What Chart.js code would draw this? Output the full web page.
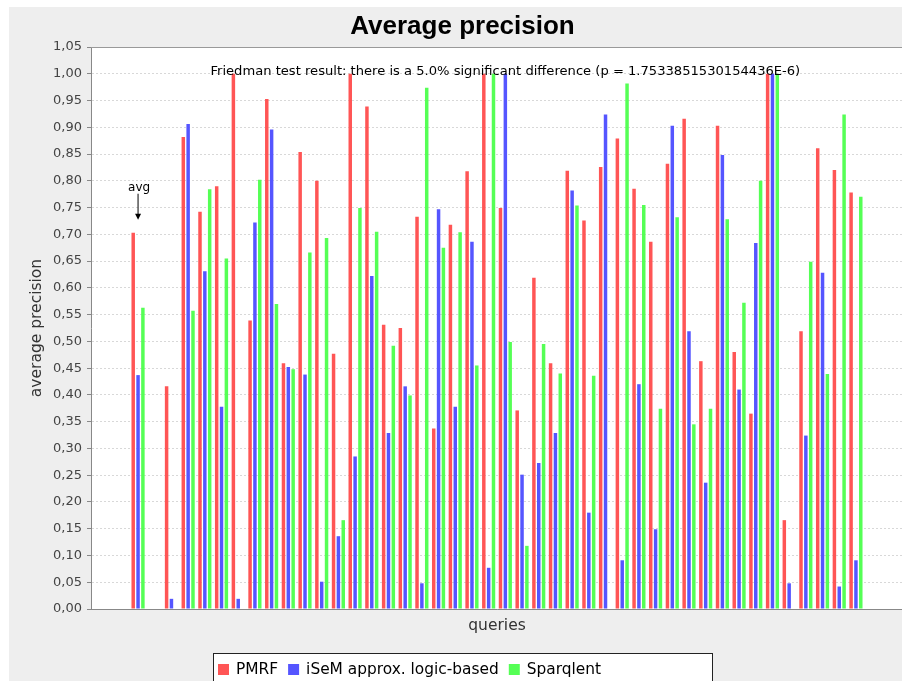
<!DOCTYPE html>
<html>
<head>
<meta charset="utf-8">
<title>Average precision</title>
<script src="https://cdn.jsdelivr.net/npm/chart.js@4.4.0/dist/chart.umd.min.js"></script>
<style>
    html, body { margin: 0; padding: 0; background: #ffffff; overflow: hidden; }
    #panel { position: absolute; left: 9px; top: 7px; width: 907px; height: 690px; background: #eeeeee; }
</style>
</head>
<body>
<div id="panel"><canvas id="chart" width="907" height="690"></canvas></div>
<script>
// categories: the average, an empty separator, then the queries
var categories = ['avg', '', 'q1', 'q2', 'q3', 'q4', 'q5', 'q6', 'q7', 'q8', 'q9', 'q10',
    'q11', 'q12', 'q13', 'q14', 'q15', 'q16', 'q17', 'q18', 'q19', 'q20', 'q21', 'q22',
    'q23', 'q24', 'q25', 'q26', 'q27', 'q28', 'q29', 'q30', 'q31', 'q32', 'q33', 'q34',
    'q35', 'q36', 'q37', 'q38', 'q39', 'q40', 'q41', 'q42'];

var pmrf = [0.703, 0, 0.416, 0.882, 0.742, 0.790, 1.0, 0.539, 0.953, 0.459, 0.854,
    0.800, 0.477, 1.0, 0.939, 0.531, 0.525, 0.733, 0.337, 0.718, 0.818, 1.0, 0.749,
    0.371, 0.619, 0.459, 0.819, 0.726, 0.826, 0.879, 0.785, 0.686, 0.832, 0.916, 0.463,
    0.903, 0.480, 0.365, 1.0, 0.166, 0.519, 0.861, 0.820, 0.778];

var isem = [0.437, 0, 0.019, 0.906, 0.631, 0.378, 0.019, 0.722, 0.896, 0.452, 0.438,
    0.051, 0.136, 0.285, 0.622, 0.329, 0.416, 0.048, 0.747, 0.378, 0.686, 0.077, 1.0,
    0.251, 0.273, 0.329, 0.782, 0.180, 0.924, 0.091, 0.420, 0.149, 0.903, 0.519, 0.236,
    0.848, 0.410, 0.684, 1.0, 0.048, 0.324, 0.628, 0.042, 0.091];

var sparqlent = [0.563, 0, 0, 0.557, 0.784, 0.655, 0, 0.802, 0.570, 0.448, 0.666,
    0.693, 0.166, 0.749, 0.705, 0.492, 0.399, 0.974, 0.675, 0.704, 0.455, 1.0, 0.499,
    0.118, 0.495, 0.440, 0.754, 0.436, 0, 0.982, 0.755, 0.374, 0.732, 0.345, 0.374,
    0.728, 0.572, 0.800, 1.0, 0, 0.649, 0.439, 0.924, 0.770];

var seriesNames = ['PMRF', 'iSeM approx. logic-based', 'Sparqlent'];
var seriesColors = ['#ff5555', '#5555ff', '#55ff55'];

var yMin = 0, yMax = 1.05, yStep = 0.05;
var chartTitle = 'Average precision';
var friedmanText = 'Friedman test result: there is a 5.0% significant difference (p = 1.7533851530154436E-6)';

// category axis margins, like the original renderer
var lowerMargin = 0.05, upperMargin = 0.05, categoryMargin = 0.2;
var n = categories.length;
var unit = (1 - lowerMargin - upperMargin - categoryMargin) / n + categoryMargin / (n - 1);
var xMin = -(lowerMargin + (1 - lowerMargin - upperMargin - categoryMargin) / n / 2) / unit;
var xMax = (n - 1) - xMin;

function toPoints(values) {
    return values.map(function (v, i) { return { x: i, y: v }; });
}

var tickFont = { family: 'DejaVu Sans', size: 13 };
var labelFont = { family: 'DejaVu Sans', size: 15.5 };

var extras = {
    id: 'extras',
    beforeDraw: function (chart) {
        var a = chart.chartArea, ctx = chart.ctx;
        ctx.save();
        ctx.fillStyle = '#ffffff';
        ctx.fillRect(a.left, a.top, a.right - a.left, a.bottom - a.top);
        // title, centred on the whole panel
        ctx.fillStyle = '#000000';
        ctx.font = 'bold 26px "Liberation Sans"';
        ctx.textAlign = 'center';
        ctx.textBaseline = 'alphabetic';
        ctx.fillText(chartTitle, chart.width / 2, 27);
        ctx.restore();
    },
    afterDatasetsDraw: function (chart) {
        var ctx = chart.ctx, xs = chart.scales.x, ys = chart.scales.y, a = chart.chartArea;
        ctx.save();
        // plot outline on top
        ctx.strokeStyle = '#999999';
        ctx.lineWidth = 1;
        ctx.beginPath();
        ctx.moveTo(a.left, a.top + 0.5);
        ctx.lineTo(a.right, a.top + 0.5);
        ctx.stroke();

        // avg pointer
        var px = xs.getPixelForValue(0);
        var py = ys.getPixelForValue(Math.max(pmrf[0], isem[0], sparqlent[0]));
        var tip = py - 13, base = py - 39;
        ctx.strokeStyle = '#000000';
        ctx.fillStyle = '#000000';
        ctx.beginPath();
        ctx.moveTo(px, base);
        ctx.lineTo(px, tip - 4);
        ctx.stroke();
        ctx.beginPath();
        ctx.moveTo(px - 3, tip - 6);
        ctx.lineTo(px + 3, tip - 6);
        ctx.lineTo(px, tip);
        ctx.closePath();
        ctx.fill();
        ctx.font = '12px "DejaVu Sans"';
        ctx.textAlign = 'center';
        ctx.textBaseline = 'alphabetic';
        ctx.fillText('avg', px + 1, base - 3);

        // test result
        ctx.font = '13.1px "DejaVu Sans"';
        ctx.fillText(friedmanText, xs.getPixelForValue(Math.floor(n / 2)), ys.getPixelForValue(1.0) + 1);
        ctx.restore();
    },
    afterDraw: function (chart) {
        var ctx = chart.ctx;
        var box = { left: 204, top: 646, width: 499, height: 60 };
        ctx.save();
        ctx.fillStyle = '#ffffff';
        ctx.fillRect(box.left, box.top, box.width, box.height);
        ctx.strokeStyle = '#222222';
        ctx.lineWidth = 1;
        ctx.strokeRect(box.left + 0.5, box.top + 0.5, box.width, box.height);
        ctx.font = '15.4px "DejaVu Sans"';
        ctx.textAlign = 'left';
        ctx.textBaseline = 'middle';
        var x = box.left + 5, cy = box.top + 17;
        chart.data.datasets.forEach(function (ds) {
            ctx.fillStyle = ds.backgroundColor;
            ctx.fillRect(x, cy - 6, 11, 11);
            ctx.fillStyle = '#000000';
            ctx.fillText(ds.label, x + 18, cy);
            x += 18 + ctx.measureText(ds.label).width + 10;
        });
        ctx.restore();
    }
};

new Chart(document.getElementById('chart'), {
    type: 'bar',
    data: {
        datasets: [0, 1, 2].map(function (k) {
            return {
                label: seriesNames[k],
                data: toPoints([pmrf, isem, sparqlent][k]),
                backgroundColor: seriesColors[k],
                borderWidth: 0,
                categoryPercentage: 0.87,
                barPercentage: 0.72
            };
        })
    },
    options: {
        responsive: false,
        animation: false,
        layout: { padding: { left: 0, right: 13, top: 40, bottom: 58 } },
        plugins: {
            legend: { display: false },
            tooltip: { enabled: false },
            title: { display: false }
        },
        scales: {
            x: {
                type: 'linear',
                min: xMin,
                max: xMax,
                offset: false,
                ticks: { display: false },
                grid: { display: false, drawTicks: false },
                border: { color: '#888888', width: 1 },
                title: {
                    display: true,
                    text: 'queries',
                    color: '#333333',
                    font: labelFont,
                    padding: { top: 0, bottom: 3.7 }
                },
                afterFit: function (scale) { scale.height = 30; }
            },
            y: {
                min: yMin,
                max: yMax,
                ticks: {
                    stepSize: yStep,
                    maxTicksLimit: 40,
                    padding: 5,
                    color: '#444444',
                    font: tickFont,
                    callback: function (v) { return v.toFixed(2).replace('.', ','); }
                },
                grid: {
                    color: '#d8d8d8',
                    lineWidth: 1,
                    tickLength: 4,
                    tickColor: '#888888',
                    tickBorderDash: []
                },
                border: { color: '#888888', width: 1, dash: [2, 2] },
                title: {
                    display: true,
                    text: 'average precision',
                    color: '#333333',
                    font: labelFont,
                    padding: { top: 18.7, bottom: 0 }
                },
                afterFit: function (scale) { scale.width = 82; }
            }
        }
    },
    plugins: [extras]
});
</script>
</body>
</html>
